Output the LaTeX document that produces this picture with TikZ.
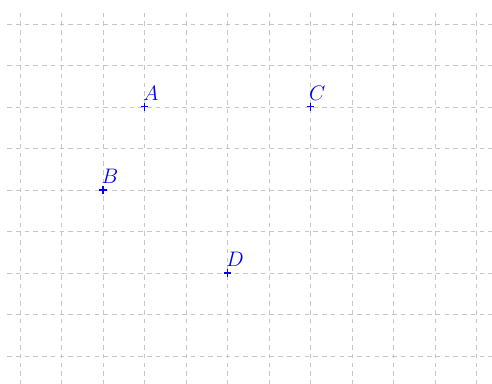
\documentclass[tikz,border=0pt]{standalone}
\begin{document}
\begin{tikzpicture}[x=1cm,y=1cm,
  gridline/.style={gray!45, dashed, line width=0.6pt},
  ptmark/.style={blue, line width=0.7pt},
  ptlabel/.style={blue, anchor=south west, inner sep=0pt, font=\fontsize{15.5}{18}\selectfont}]
\useasboundingbox (-0.482,-0.651) rectangle (11.373,8.578);
\begin{scope}
\clip (-0.482,-0.651) rectangle (11.373,8.578);
\foreach \i in {0,...,11} \draw[gridline] (\i,-0.9) -- (\i,8.31);
\foreach \j in {0,...,8} \draw[gridline] (-0.31,\j) -- (11.6,\j);
\end{scope}
\foreach \n/\x/\y in {A/3/6, C/7/6, B/2/4, D/5/2} {
  \coordinate (\n) at (\x,\y);
  \draw[ptmark] ([xshift=-0.085cm]\n) -- ([xshift=0.085cm]\n);
  \draw[ptmark] ([yshift=-0.085cm]\n) -- ([yshift=0.085cm]\n);
  \node[ptlabel] (lbl\n) at ([xshift=-0.04cm,yshift=0.15cm]\n) {$\n$};
}
\end{tikzpicture}
\end{document}
